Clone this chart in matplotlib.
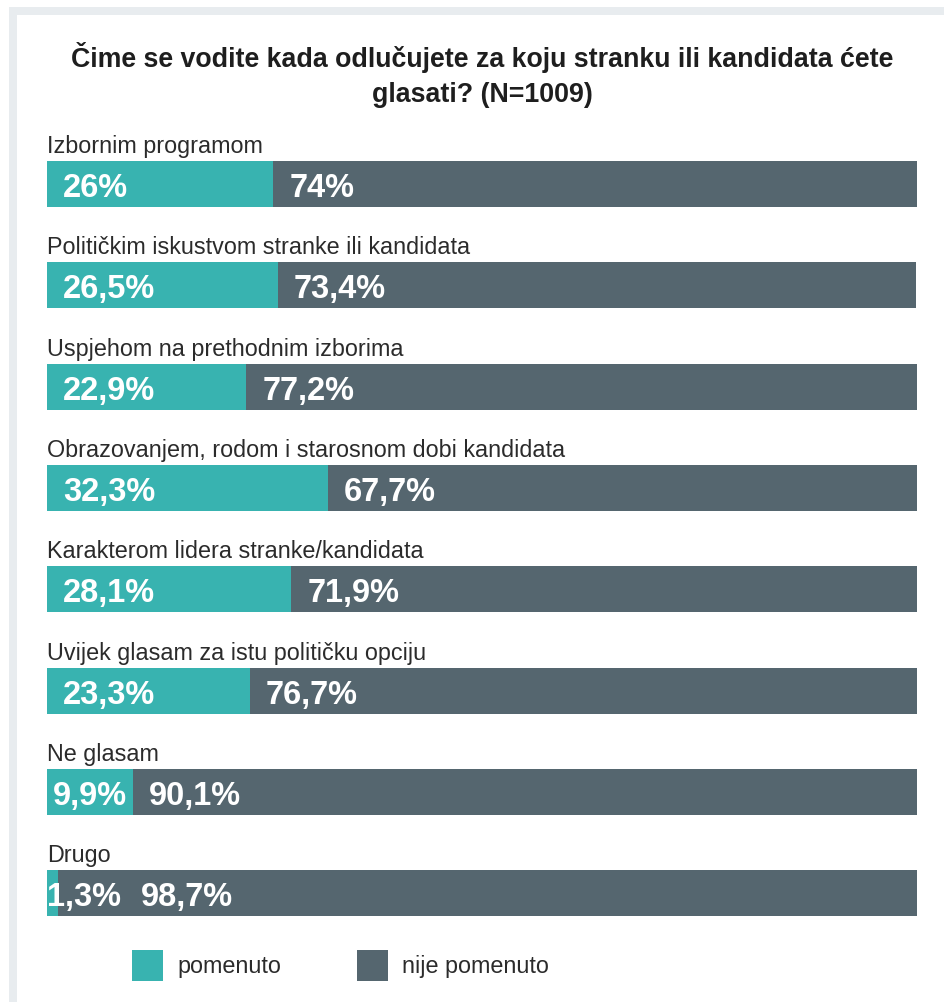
import matplotlib
matplotlib.use("Agg")
import matplotlib.pyplot as plt
from matplotlib.patches import Rectangle

plt.rcParams['font.family'] = ['Liberation Sans', 'DejaVu Sans']

title_lines = ["Čime se vodite kada odlučujete za koju stranku ili kandidata ćete",
               "glasati? (N=1009)"]
categories = [
    "Izbornim programom",
    "Političkim iskustvom stranke ili kandidata",
    "Uspjehom na prethodnim izborima",
    "Obrazovanjem, rodom i starosnom dobi kandidata",
    "Karakterom lidera stranke/kandidata",
    "Uvijek glasam za istu političku opciju",
    "Ne glasam",
    "Drugo",
]
pomenuto = [26.0, 26.5, 22.9, 32.3, 28.1, 23.3, 9.9, 1.3]
nije_pomenuto = [74.0, 73.4, 77.2, 67.7, 71.9, 76.7, 90.1, 98.7]
legend_labels = ["pomenuto", "nije pomenuto"]

TEAL = "#38b3b0"
DARK = "#55666f"
TEXT = "#2b2b2b"

W, H = 944, 1003
fig = plt.figure(figsize=(W / 100, H / 100), dpi=100)
fig.patch.set_facecolor("white")

# light frame
frame_col = "#e8ecef"
fig.patches.append(Rectangle((9 / W, 1 - 16 / H), 1 - 9 / W, 8 / H, transform=fig.transFigure,
                             facecolor=frame_col, edgecolor="none", zorder=0))
fig.patches.append(Rectangle((9 / W, 0), 8 / W, 1 - 8 / H, transform=fig.transFigure,
                             facecolor=frame_col, edgecolor="none", zorder=0))

# axes: bars from x=47..917 px, bar tops 162 .. bar8 bottom 917
bar_h = 0.454
top_px, bot_px = 162, 917.5
ax = fig.add_axes([47 / W, 1 - bot_px / H, 870 / W, (bot_px - top_px) / H])
ax.set_xlim(0, 100)
n = len(categories)
ax.set_ylim(n - 1 + bar_h / 2, -bar_h / 2)
ax.axis("off")

ypos = list(range(n))
ax.barh(ypos, pomenuto, height=bar_h, color=TEAL, linewidth=0)
ax.barh(ypos, nije_pomenuto, left=pomenuto, height=bar_h, color=DARK, linewidth=0)

fig.canvas.draw()
renderer = fig.canvas.get_renderer()
px_per_unit = 870 / 100.0


def fmt(v):
    s = f"{v:.1f}".replace(".", ",")
    if s.endswith(",0"):
        s = s[:-2]
    return s + "%"


lab_fs = 16.8
val_fs = 23.5
pad = 16 / px_per_unit
gap = 20 / px_per_unit
for i, (cat, a, b) in enumerate(zip(categories, pomenuto, nije_pomenuto)):
    ax.annotate(cat, xy=(0, i - bar_h / 2), xytext=(0, 6.5), textcoords="offset points",
                ha="left", va="baseline", fontsize=lab_fs, color=TEXT)
    t1 = ax.text(0, i, fmt(a), ha="left", va="center_baseline", fontsize=val_fs,
                 fontweight="bold", color="white")
    w1 = t1.get_window_extent(renderer).width / px_per_unit
    x1 = a / 2 - w1 / 2 if a - w1 < 2 * pad else pad
    x1 = max(x1, 0)
    t1.set_x(x1)
    x2 = max(a + pad, x1 + w1 + gap)
    ax.text(x2, i, fmt(b), ha="left", va="center_baseline", fontsize=val_fs,
            fontweight="bold", color="white")

# title
fig.text(482 / W, 1 - 67 / H, title_lines[0], ha="center", va="baseline",
         fontsize=19.3, fontweight="bold", color="#1e1e1e")
fig.text(482 / W, 1 - 102 / H, title_lines[1], ha="center", va="baseline",
         fontsize=19.3, fontweight="bold", color="#1e1e1e")

# legend
for (x0, col, lab) in [(132, TEAL, legend_labels[0]), (357, DARK, legend_labels[1])]:
    fig.patches.append(Rectangle((x0 / W, 1 - 982 / H), 31 / W, 31 / H,
                                 transform=fig.transFigure, facecolor=col, edgecolor="none"))
    fig.text((x0 + 45) / W, 1 - 973 / H, lab, ha="left", va="baseline",
             fontsize=lab_fs, color=TEXT)

fig.savefig("out.png", dpi=100, facecolor="white")
